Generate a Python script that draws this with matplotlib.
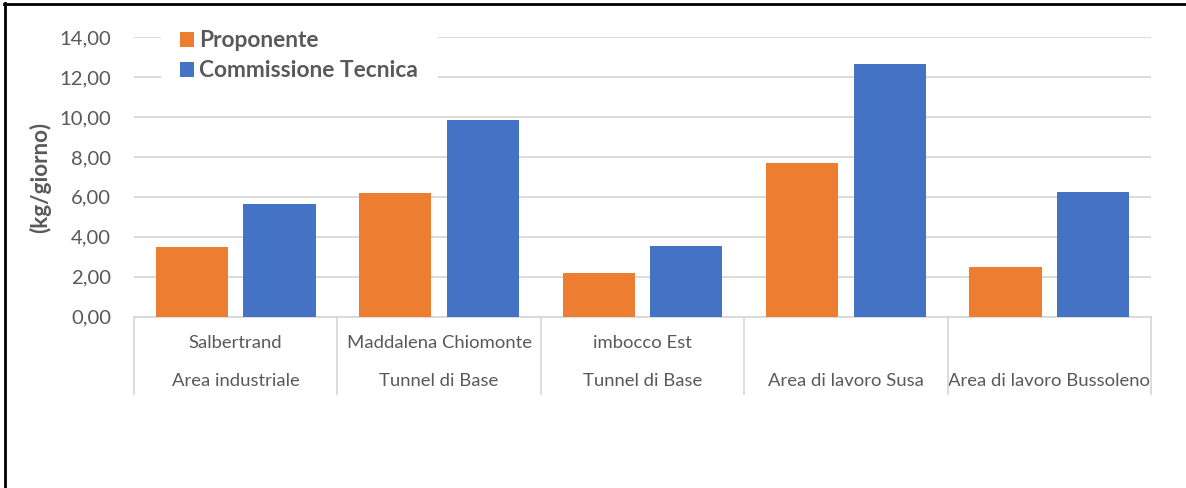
import matplotlib
matplotlib.use('Agg')
import matplotlib.pyplot as plt
import matplotlib.transforms as mtransforms
from matplotlib.lines import Line2D
import numpy as np

plt.rcParams['font.family'] = ['Lato', 'DejaVu Sans']

siti = ['Salbertrand', 'Maddalena Chiomonte', 'imbocco Est', '', '']
aree = ['Area industriale', 'Tunnel di Base', 'Tunnel di Base',
        'Area di lavoro Susa', 'Area di lavoro Bussoleno']
proponente = [3.48, 6.18, 2.18, 7.70, 2.46]
commissione = [5.63, 9.85, 3.53, 12.66, 6.25]
yticks = [0, 2, 4, 6, 8, 10, 12, 14]

grigio = '#595959'
linea = '#d9d9d9'
W, H = 1186, 488

fig = plt.figure(figsize=(W / 100, H / 100), dpi=100)
ax = fig.add_axes([134 / W, 1 - 316.5 / H, (1151 - 134) / W, (316.5 - 37.3) / H])

x = np.arange(len(aree))
bw = 0.355
ax.bar(x - 0.215, proponente, bw, color='#ED7D31', label='Proponente', zorder=3)
ax.bar(x + 0.215, commissione, bw, color='#4472C4', label='Commissione Tecnica', zorder=3)

ax.set_xlim(-0.5, len(aree) - 0.5)
ax.set_ylim(0, 14)
ax.set_yticks(yticks)
ax.yaxis.set_major_formatter(matplotlib.ticker.FuncFormatter(lambda v, p: ('%.2f' % v).replace('.', ',')))
ax.tick_params(axis='y', length=0, pad=16.5, labelsize=14.6, labelcolor=grigio)
ax.set_xticks([])
ax.grid(axis='y', color=linea, lw=1.3, zorder=0)
for k in ['left', 'right', 'top']:
    ax.spines[k].set_visible(False)
ax.spines['bottom'].set_color(linea)
ax.spines['bottom'].set_linewidth(1.3)

# etichette categorie su due livelli con separatori
tr = mtransforms.blended_transform_factory(ax.transData, fig.transFigure)
for i in range(len(aree)):
    ax.text(i, 1 - 343 / H, siti[i], transform=tr, ha='center', va='center',
            fontsize=13.3, color=grigio)
    ax.text(i, 1 - 381 / H, aree[i], transform=tr, ha='center', va='center',
            fontsize=13.3, color=grigio)
for xs in np.arange(-0.5, len(aree), 1.0):
    fig.add_artist(Line2D([xs, xs], [1 - 316.5 / H, 1 - 394 / H], transform=tr,
                          color=linea, lw=1.3))

fig.text(40 / W, 1 - 177 / H, '(kg/giorno)', rotation=90, ha='center', va='center',
         fontsize=16.2, fontweight='bold', color=grigio)

leg = ax.legend(loc='upper left', bbox_to_anchor=(161 / W, 1 - 11 / H),
                bbox_transform=fig.transFigure, borderaxespad=0, borderpad=0.85,
                handlelength=0.61, handleheight=0.61, handletextpad=0.22,
                labelspacing=0.4, frameon=True, fancybox=False,
                prop={'weight': 'bold', 'size': 16.4})
leg.get_frame().set_facecolor('white')
leg.get_frame().set_edgecolor('none')
leg.get_frame().set_alpha(1)
for t in leg.get_texts():
    t.set_color(grigio)

# cornice nera sinistra e superiore
fig.add_artist(Line2D([5 / W, 5 / W], [0, 1 - 3 / H], transform=fig.transFigure, color='black', lw=2))
fig.add_artist(Line2D([4 / W, 1], [1 - 4 / H, 1 - 4 / H], transform=fig.transFigure, color='black', lw=2))

plt.savefig('out.png', dpi=100)
